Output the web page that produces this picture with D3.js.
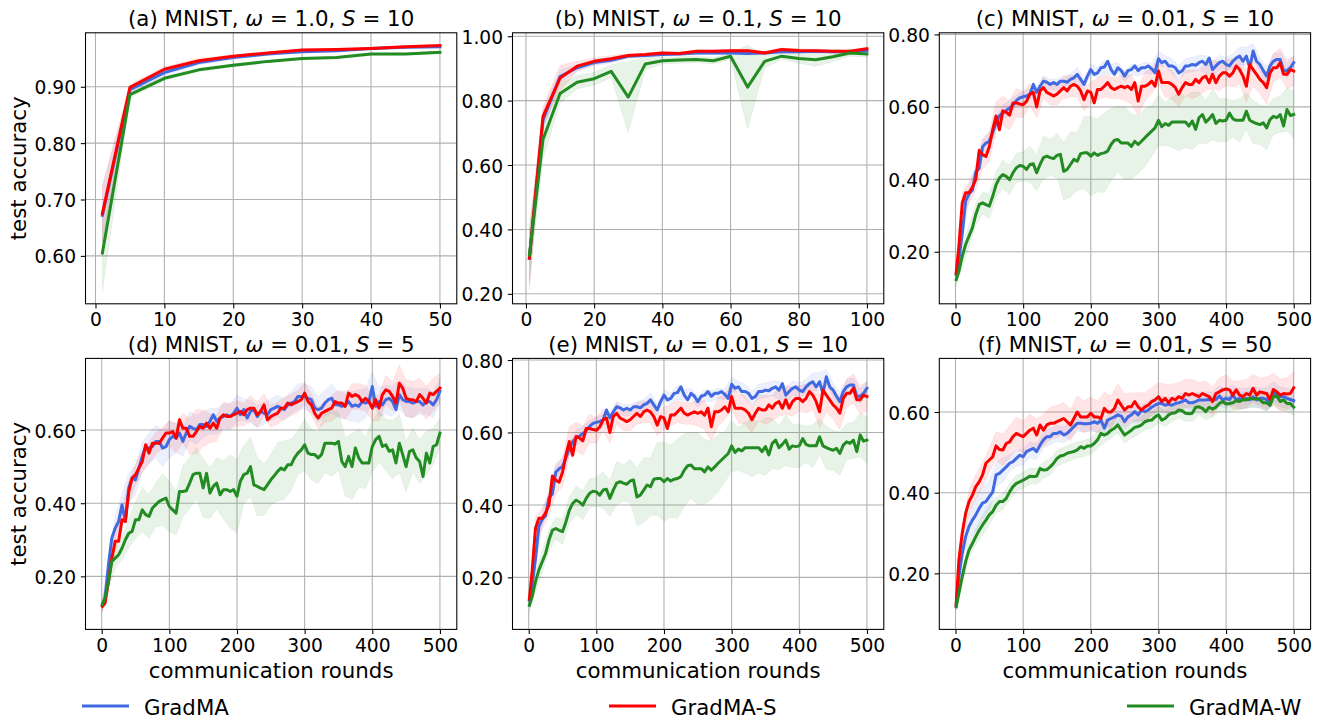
<!DOCTYPE html>
<html><head><meta charset="utf-8">
<script src="https://cdn.jsdelivr.net/npm/d3@7"></script>
<style>
body{margin:0;background:#fff}
svg{display:block}
text{font-family:"DejaVu Sans",sans-serif;fill:#000}
</style>
</head><body><svg id="chart" width="1326" height="721"></svg>
<script>
// ---------------- DATA ----------------
const seriesNames = ["GradMA", "GradMA-S", "GradMA-W"];

const roundsA = [1,5,10,15,20,25,30,35,40,45,50];
const roundsB = [1,5,10,15,20,25,30,35,40,45,50,55,60,65,70,75,80,85,90,95,100];
const rounds500 = [1,5,10,15,20,25,30,35,40,45,50,55,60,65,70,75,80,85,90,95,
  100,105,110,115,120,125,130,135,140,145,150,155,160,165,170,175,180,185,190,195,
  200,205,210,215,220,225,230,235,240,245,250,255,260,265,270,275,280,285,290,295,
  300,305,310,315,320,325,330,335,340,345,350,355,360,365,370,375,380,385,390,395,
  400,405,410,415,420,425,430,435,440,445,450,455,460,465,470,475,480,485,490,495,500];
const bandRounds500 = [1,10,20,30,40,50,60,70,80,90,100,110,120,130,140,150,160,170,180,190,
  200,210,220,230,240,250,260,270,280,290,300,310,320,330,340,350,360,370,380,390,
  400,410,420,430,440,450,460,470,480,490,500];

// (a) MNIST, w=1.0, S=10
const aBlue  = [0.672,0.895,0.925,0.943,0.952,0.958,0.962,0.964,0.968,0.970,0.971];
const aRed   = [0.675,0.899,0.931,0.946,0.954,0.960,0.965,0.966,0.968,0.971,0.973];
const aGreen = [0.605,0.886,0.915,0.930,0.938,0.945,0.950,0.952,0.958,0.958,0.961];
const aBlueStd  = [0.05,0.006,0.005,0.004,0.003,0.002,0.002,0.002,0.002,0.002,0.002];
const aRedStd   = [0.05,0.005,0.005,0.004,0.003,0.002,0.002,0.002,0.002,0.002,0.002];
const aGreenStd = [0.068,0.006,0.004,0.003,0.003,0.002,0.002,0.002,0.002,0.002,0.002];

// (b) MNIST, w=0.1, S=10
const bBlue  = [0.31,0.74,0.875,0.902,0.918,0.925,0.938,0.94,0.943,0.945,0.948,0.948,0.948,0.946,0.948,0.952,0.952,0.953,0.952,0.952,0.955];
const bRed   = [0.311,0.751,0.87,0.907,0.922,0.93,0.94,0.943,0.948,0.946,0.953,0.953,0.955,0.955,0.948,0.959,0.956,0.955,0.953,0.953,0.961];
const bGreen = [0.32,0.679,0.822,0.857,0.868,0.891,0.811,0.914,0.924,0.926,0.928,0.924,0.938,0.842,0.922,0.938,0.931,0.927,0.936,0.948,0.945];
const bBlueStd  = [0.08,0.03,0.02,0.01,0.01,0.008,0.005,0.005,0.005,0.005,0.005,0.005,0.005,0.005,0.005,0.005,0.005,0.005,0.005,0.005,0.005];
const bRedStd   = [0.1,0.03,0.04,0.015,0.01,0.01,0.006,0.005,0.005,0.005,0.005,0.005,0.005,0.005,0.005,0.005,0.005,0.005,0.005,0.005,0.005];
const bGreenStd = [0.08,0.06,0.03,0.02,0.02,0.02,0.11,0.02,0.01,0.01,0.01,0.01,0.01,0.13,0.02,0.01,0.015,0.02,0.015,0.01,0.01];

// (c) and (e) MNIST, w=0.01, S=10
const cBlue = [0.137,0.178,0.25,0.34,0.36,0.37,0.42,0.43,0.49,0.50,
  0.505,0.53,0.555,0.575,0.585,0.59,0.597,0.605,0.617,0.625,
  0.628,0.63,0.635,0.662,0.64,0.657,0.671,0.668,0.662,0.667,
  0.662,0.671,0.671,0.668,0.676,0.68,0.69,0.676,0.662,0.685,
  0.703,0.69,0.694,0.708,0.71,0.726,0.703,0.69,0.708,0.70,
  0.685,0.70,0.703,0.713,0.70,0.708,0.708,0.713,0.705,0.694,
  0.733,0.722,0.726,0.713,0.713,0.708,0.694,0.699,0.713,0.713,
  0.717,0.715,0.722,0.726,0.717,0.735,0.703,0.713,0.722,0.726,
  0.717,0.713,0.726,0.735,0.74,0.726,0.74,0.708,0.754,0.726,
  0.717,0.70,0.685,0.713,0.726,0.731,0.731,0.70,0.70,0.708,
  0.722];
const cRed = [0.14,0.215,0.335,0.363,0.363,0.378,0.40,0.48,0.468,0.463,
  0.49,0.537,0.575,0.537,0.589,0.585,0.577,0.611,0.611,0.608,
  0.606,0.615,0.635,0.64,0.60,0.644,0.653,0.64,0.635,0.63,
  0.635,0.644,0.653,0.644,0.657,0.662,0.657,0.644,0.62,0.644,
  0.64,0.611,0.648,0.648,0.657,0.667,0.653,0.648,0.653,0.657,
  0.653,0.657,0.648,0.667,0.616,0.657,0.657,0.662,0.671,0.657,
  0.699,0.667,0.667,0.667,0.662,0.653,0.635,0.653,0.667,0.662,
  0.662,0.676,0.667,0.68,0.685,0.667,0.69,0.667,0.685,0.694,
  0.694,0.685,0.694,0.713,0.703,0.685,0.657,0.717,0.703,0.69,
  0.676,0.667,0.653,0.694,0.708,0.708,0.722,0.69,0.69,0.703,
  0.699];
const cGreen = [0.123,0.146,0.188,0.22,0.243,0.266,0.303,0.33,0.335,0.33,
  0.326,0.353,0.385,0.404,0.413,0.408,0.399,0.418,0.432,0.438,
  0.436,0.427,0.441,0.443,0.418,0.441,0.46,0.464,0.46,0.457,
  0.466,0.469,0.422,0.427,0.441,0.455,0.45,0.471,0.473,0.473,
  0.464,0.473,0.466,0.471,0.473,0.478,0.496,0.508,0.51,0.50,
  0.50,0.50,0.491,0.505,0.496,0.505,0.515,0.524,0.533,0.542,
  0.563,0.545,0.554,0.549,0.558,0.558,0.558,0.558,0.558,0.547,
  0.561,0.538,0.57,0.579,0.558,0.567,0.579,0.554,0.563,0.561,
  0.563,0.583,0.567,0.563,0.563,0.563,0.588,0.563,0.558,0.554,
  0.551,0.556,0.542,0.565,0.574,0.57,0.579,0.547,0.593,0.576,
  0.579];
const cBlueStd = [0.01,0.02,0.02,0.02,0.025,0.025,0.02,0.02,0.02,0.015,
  0.015,0.015,0.015,0.015,0.015,0.015,0.015,0.015,0.02,0.015,
  0.015,0.015,0.02,0.015,0.015,0.015,0.015,0.015,0.015,0.015,
  0.02,0.015,0.02,0.02,0.02,0.02,0.02,0.025,0.02,0.02,
  0.02,0.02,0.025,0.025,0.02,0.02,0.025,0.02,0.02,0.02,0.02];
const cRedStd = [0.02,0.03,0.03,0.03,0.04,0.04,0.04,0.04,0.04,0.04,
  0.035,0.03,0.03,0.03,0.03,0.03,0.03,0.03,0.03,0.03,
  0.03,0.03,0.03,0.03,0.03,0.035,0.04,0.04,0.04,0.035,
  0.035,0.04,0.04,0.035,0.035,0.04,0.035,0.04,0.04,0.04,
  0.035,0.04,0.04,0.045,0.045,0.04,0.045,0.04,0.04,0.04,0.04];
const cGreenStd = [0.02,0.03,0.03,0.03,0.03,0.035,0.035,0.04,0.04,0.04,
  0.04,0.05,0.05,0.06,0.05,0.06,0.08,0.09,0.08,0.1,
  0.11,0.1,0.11,0.1,0.09,0.1,0.09,0.08,0.08,0.07,
  0.07,0.06,0.07,0.08,0.07,0.08,0.07,0.06,0.07,0.06,
  0.06,0.05,0.06,0.05,0.06,0.055,0.06,0.05,0.05,0.06,0.065];

// (d) MNIST, w=0.01, S=5
const dBlue = [0.123,0.141,0.232,0.305,0.332,0.35,0.396,0.35,0.442,0.469,
  0.464,0.496,0.528,0.555,0.55,0.555,0.569,0.569,0.551,0.555,
  0.574,0.583,0.578,0.592,0.569,0.592,0.61,0.605,0.601,0.615,
  0.615,0.61,0.624,0.642,0.624,0.633,0.637,0.642,0.637,0.646,
  0.66,0.642,0.656,0.633,0.651,0.656,0.637,0.651,0.646,0.642,
  0.656,0.66,0.665,0.66,0.656,0.669,0.674,0.678,0.692,0.692,
  0.692,0.687,0.683,0.66,0.656,0.66,0.674,0.683,0.687,0.669,
  0.669,0.665,0.669,0.678,0.665,0.669,0.665,0.678,0.674,0.678,
  0.719,0.665,0.678,0.669,0.683,0.687,0.678,0.656,0.697,0.683,
  0.678,0.678,0.674,0.678,0.678,0.669,0.678,0.678,0.669,0.683,
  0.706];
const dRed = [0.118,0.127,0.186,0.25,0.296,0.296,0.355,0.35,0.432,0.469,
  0.478,0.496,0.514,0.56,0.537,0.564,0.564,0.564,0.578,0.592,
  0.592,0.596,0.578,0.628,0.605,0.605,0.583,0.583,0.596,0.61,
  0.605,0.619,0.605,0.619,0.605,0.633,0.642,0.637,0.637,0.642,
  0.646,0.651,0.642,0.656,0.66,0.66,0.642,0.651,0.669,0.628,
  0.637,0.642,0.646,0.66,0.66,0.674,0.669,0.674,0.678,0.683,
  0.701,0.678,0.669,0.646,0.633,0.646,0.651,0.656,0.66,0.678,
  0.674,0.674,0.665,0.701,0.692,0.697,0.692,0.678,0.687,0.678,
  0.66,0.683,0.66,0.697,0.71,0.706,0.692,0.674,0.728,0.715,
  0.687,0.683,0.683,0.678,0.697,0.687,0.674,0.701,0.697,0.706,
  0.715];
const dGreen = [0.123,0.141,0.186,0.241,0.25,0.259,0.277,0.30,0.318,0.323,
  0.355,0.355,0.382,0.369,0.364,0.387,0.396,0.405,0.41,0.414,
  0.391,0.382,0.373,0.432,0.432,0.434,0.455,0.478,0.482,0.482,
  0.442,0.482,0.428,0.446,0.455,0.423,0.437,0.437,0.432,0.437,
  0.419,0.46,0.478,0.482,0.50,0.45,0.446,0.441,0.437,0.45,
  0.464,0.475,0.487,0.496,0.491,0.505,0.505,0.524,0.537,0.546,
  0.56,0.537,0.533,0.533,0.524,0.533,0.564,0.564,0.564,0.562,
  0.569,0.514,0.50,0.528,0.50,0.551,0.524,0.51,0.51,0.51,
  0.555,0.574,0.583,0.555,0.56,0.542,0.546,0.51,0.564,0.533,
  0.50,0.542,0.546,0.524,0.514,0.473,0.537,0.51,0.555,0.56,
  0.592];
const dBlueStd = [0.01,0.02,0.03,0.03,0.04,0.04,0.04,0.04,0.045,0.05,
  0.05,0.04,0.04,0.04,0.04,0.035,0.035,0.035,0.035,0.035,
  0.035,0.03,0.03,0.03,0.03,0.03,0.03,0.03,0.03,0.035,
  0.035,0.035,0.035,0.035,0.04,0.035,0.04,0.04,0.045,0.04,
  0.04,0.04,0.04,0.04,0.04,0.04,0.04,0.035,0.035,0.035,0.035];
const dRedStd = [0.015,0.02,0.03,0.03,0.03,0.03,0.03,0.03,0.03,0.03,
  0.035,0.04,0.04,0.05,0.06,0.05,0.04,0.035,0.035,0.035,
  0.035,0.03,0.035,0.035,0.03,0.03,0.03,0.03,0.03,0.03,
  0.03,0.03,0.03,0.03,0.035,0.035,0.035,0.035,0.035,0.035,
  0.035,0.035,0.04,0.04,0.05,0.05,0.05,0.045,0.045,0.045,0.04];
const dGreenStd = [0.02,0.02,0.03,0.03,0.04,0.05,0.06,0.06,0.06,0.07,
  0.07,0.06,0.07,0.07,0.07,0.08,0.07,0.07,0.08,0.1,
  0.1,0.08,0.08,0.08,0.07,0.07,0.08,0.08,0.07,0.06,
  0.07,0.07,0.07,0.08,0.09,0.08,0.08,0.09,0.08,0.07,
  0.07,0.07,0.07,0.08,0.08,0.07,0.06,0.06,0.06,0.05,0.04];

// (f) MNIST, w=0.01, S=50
const fBlue = [0.121,0.192,0.25,0.291,0.316,0.332,0.345,0.361,0.374,0.378,
  0.39,0.402,0.444,0.448,0.456,0.464,0.473,0.477,0.485,0.493,
  0.489,0.502,0.506,0.51,0.502,0.518,0.531,0.539,0.539,0.547,
  0.547,0.551,0.543,0.547,0.555,0.564,0.572,0.572,0.571,0.571,
  0.572,0.576,0.572,0.58,0.56,0.58,0.584,0.588,0.593,0.59,
  0.576,0.588,0.593,0.601,0.593,0.605,0.601,0.605,0.612,0.617,
  0.621,0.621,0.617,0.619,0.617,0.621,0.623,0.626,0.63,0.623,
  0.623,0.626,0.63,0.63,0.63,0.631,0.63,0.631,0.64,0.63,
  0.634,0.631,0.642,0.63,0.634,0.63,0.634,0.63,0.638,0.63,
  0.634,0.634,0.631,0.617,0.65,0.642,0.638,0.638,0.634,0.631,
  0.628];
const fRed = [0.121,0.233,0.30,0.349,0.378,0.394,0.415,0.427,0.444,0.473,
  0.481,0.489,0.516,0.507,0.506,0.522,0.526,0.539,0.547,0.543,
  0.539,0.547,0.555,0.56,0.543,0.568,0.555,0.568,0.572,0.572,
  0.576,0.58,0.584,0.576,0.568,0.584,0.60,0.588,0.588,0.588,
  0.597,0.588,0.588,0.584,0.609,0.60,0.60,0.609,0.63,0.617,
  0.605,0.613,0.613,0.626,0.613,0.605,0.613,0.617,0.626,0.63,
  0.638,0.626,0.634,0.623,0.634,0.63,0.638,0.634,0.646,0.642,
  0.646,0.642,0.638,0.646,0.642,0.638,0.626,0.646,0.65,0.655,
  0.657,0.655,0.642,0.655,0.642,0.638,0.646,0.642,0.659,0.642,
  0.65,0.648,0.646,0.63,0.656,0.65,0.642,0.646,0.645,0.646,
  0.66];
const fGreen = [0.117,0.15,0.192,0.229,0.258,0.274,0.291,0.307,0.32,0.332,
  0.345,0.353,0.369,0.378,0.378,0.386,0.402,0.415,0.423,0.427,
  0.431,0.436,0.441,0.44,0.441,0.46,0.456,0.457,0.464,0.473,
  0.485,0.491,0.493,0.498,0.50,0.502,0.506,0.514,0.51,0.516,
  0.516,0.522,0.531,0.547,0.543,0.547,0.555,0.56,0.568,0.555,
  0.543,0.549,0.555,0.562,0.564,0.568,0.576,0.579,0.58,0.588,
  0.593,0.58,0.584,0.593,0.597,0.598,0.605,0.603,0.597,0.596,
  0.597,0.612,0.613,0.609,0.601,0.612,0.607,0.612,0.621,0.626,
  0.62,0.621,0.623,0.628,0.626,0.631,0.63,0.634,0.632,0.634,
  0.63,0.623,0.623,0.617,0.638,0.64,0.626,0.63,0.621,0.621,
  0.612];
const fBlueStd = [0.01,0.02,0.03,0.04,0.04,0.04,0.03,0.03,0.02,0.02,
  0.02,0.02,0.02,0.02,0.02,0.02,0.02,0.02,0.02,0.02,
  0.02,0.02,0.02,0.02,0.02,0.02,0.02,0.02,0.02,0.02,
  0.02,0.02,0.02,0.02,0.02,0.02,0.02,0.02,0.02,0.025,
  0.025,0.025,0.025,0.025,0.025,0.025,0.03,0.025,0.025,0.025,0.025];
const fRedStd = [0.01,0.02,0.03,0.03,0.03,0.03,0.035,0.04,0.04,0.04,
  0.04,0.04,0.04,0.04,0.04,0.04,0.04,0.04,0.04,0.04,
  0.04,0.04,0.04,0.04,0.04,0.04,0.035,0.035,0.035,0.035,
  0.035,0.035,0.035,0.035,0.035,0.035,0.035,0.035,0.035,0.035,
  0.035,0.035,0.035,0.035,0.035,0.035,0.04,0.04,0.04,0.04,0.04];
const fGreenStd = [0.01,0.02,0.02,0.02,0.025,0.025,0.02,0.02,0.02,0.02,
  0.02,0.02,0.02,0.02,0.02,0.02,0.02,0.02,0.02,0.02,
  0.02,0.02,0.02,0.02,0.02,0.02,0.02,0.02,0.02,0.02,
  0.02,0.02,0.02,0.02,0.02,0.02,0.02,0.02,0.02,0.02,
  0.02,0.02,0.02,0.02,0.02,0.02,0.02,0.02,0.02,0.02,0.02];

// tick labels / values
const xTicksA = [0,10,20,30,40,50];
const xTicksB = [0,20,40,60,80,100];
const xTicks500 = [0,100,200,300,400,500];
const yTicksA = [0.6,0.7,0.8,0.9];
const yTicksB = [0.2,0.4,0.6,0.8,1.0];
const yTicksC = [0.2,0.4,0.6,0.8];
const yTicksD = [0.2,0.4,0.6];

const titles = [
  ["(a) MNIST, ", "ω", " = 1.0, ", "S", " = 10"],
  ["(b) MNIST, ", "ω", " = 0.1, ", "S", " = 10"],
  ["(c) MNIST, ", "ω", " = 0.01, ", "S", " = 10"],
  ["(d) MNIST, ", "ω", " = 0.01, ", "S", " = 5"],
  ["(e) MNIST, ", "ω", " = 0.01, ", "S", " = 10"],
  ["(f) MNIST, ", "ω", " = 0.01, ", "S", " = 50"]
];
const yLabelText = "test accuracy";
const xLabelText = "communication rounds";

// ---------------- LAYOUT / STYLE ----------------
const colors = ["#4169e1", "#ff0000", "#228b22"];
const colLeft = [85.5, 512.5, 939.3];
const rowTop = [32.8, 358.4];
const PW = 371.3, PH = 271;
const TICK_FS = 18.67, LABEL_FS = 21.33;

const panels = [
  {title: titles[0], x: roundsA, ys: [aBlue, aRed, aGreen], bx: roundsA, stds: [aBlueStd, aRedStd, aGreenStd],
   xd: [-1.45, 52.45], yd: [0.515, 0.9957], xt: xTicksA, yt: yTicksA, col: 0, row: 0, ylab: true, xlab: false},
  {title: titles[1], x: roundsB, ys: [bBlue, bRed, bGreen], bx: roundsB, stds: [bBlueStd, bRedStd, bGreenStd],
   xd: [-3.95, 104.95], yd: [0.169, 1.0106], xt: xTicksB, yt: yTicksB, col: 1, row: 0, ylab: false, xlab: false},
  {title: titles[2], x: rounds500, ys: [cBlue, cRed, cGreen], bx: bandRounds500, stds: [cBlueStd, cRedStd, cGreenStd],
   xd: [-23.95, 524.95], yd: [0.0563, 0.8045], xt: xTicks500, yt: yTicksC, col: 2, row: 0, ylab: false, xlab: false},
  {title: titles[3], x: rounds500, ys: [dBlue, dRed, dGreen], bx: bandRounds500, stds: [dBlueStd, dRedStd, dGreenStd],
   xd: [-23.95, 524.95], yd: [0.055, 0.796], xt: xTicks500, yt: yTicksD, col: 0, row: 1, ylab: true, xlab: true},
  {title: titles[4], x: rounds500, ys: [cBlue, cRed, cGreen], bx: bandRounds500, stds: [cBlueStd, cRedStd, cGreenStd],
   xd: [-23.95, 524.95], yd: [0.0563, 0.8045], xt: xTicks500, yt: yTicksC, col: 1, row: 1, ylab: false, xlab: true},
  {title: titles[5], x: rounds500, ys: [fBlue, fRed, fGreen], bx: bandRounds500, stds: [fBlueStd, fRedStd, fGreenStd],
   xd: [-23.95, 524.95], yd: [0.061, 0.733], xt: xTicks500, yt: yTicksD, col: 2, row: 1, ylab: false, xlab: true}
];

const svg = d3.select("#chart");
const defs = svg.append("defs");

panels.forEach((p, pi) => {
  const L = colLeft[p.col], T = rowTop[p.row];
  const g = svg.append("g").attr("transform", `translate(${L},${T})`);
  const x = d3.scaleLinear().domain(p.xd).range([0, PW]);
  const y = d3.scaleLinear().domain(p.yd).range([PH, 0]);

  defs.append("clipPath").attr("id", "clip" + pi)
    .append("rect").attr("width", PW).attr("height", PH);

  // grid
  const grid = g.append("g");
  grid.selectAll("line.gx").data(p.xt).join("line")
    .attr("x1", d => x(d)).attr("x2", d => x(d)).attr("y1", 0).attr("y2", PH)
    .attr("stroke", "#b0b0b0").attr("stroke-width", 1.07);
  grid.selectAll("line.gy").data(p.yt).join("line")
    .attr("class", "gy")
    .attr("y1", d => y(d)).attr("y2", d => y(d)).attr("x1", 0).attr("x2", PW)
    .attr("stroke", "#b0b0b0").attr("stroke-width", 1.07);

  const plot = g.append("g").attr("clip-path", `url(#clip${pi})`);

  // bands + lines
  p.ys.forEach((ys, si) => {
    const std = p.stds[si];
    const bandPts = p.bx.map((r, k) => {
      const idx = p.x.indexOf(r);
      return {r: r, lo: ys[idx] - std[k], hi: ys[idx] + std[k]};
    });
    const area = d3.area().x(d => x(d.r)).y0(d => y(d.lo)).y1(d => y(d.hi));
    plot.append("path").datum(bandPts).attr("d", area)
      .attr("fill", colors[si]).attr("fill-opacity", 0.1)
      .attr("stroke", colors[si]).attr("stroke-opacity", 0.06).attr("stroke-width", 1);
  });
  p.ys.forEach((ys, si) => {
    const line = d3.line().x((d, i) => x(p.x[i])).y(d => y(d));
    plot.append("path").datum(ys).attr("d", line)
      .attr("fill", "none").attr("stroke", colors[si]).attr("stroke-width", 3)
      .attr("stroke-linejoin", "round").attr("stroke-linecap", "square");
  });

  // axes
  const xa = g.append("g").attr("transform", `translate(0,${PH})`)
    .call(d3.axisBottom(x).tickValues(p.xt).tickFormat(d3.format("d")).tickSize(4.7).tickPadding(4.7).tickSizeOuter(0));
  const ya = g.append("g")
    .call(d3.axisLeft(y).tickValues(p.yt).tickFormat(d3.format(".2f")).tickSize(4.7).tickPadding(4.7).tickSizeOuter(0));
  [xa, ya].forEach(a => {
    a.select(".domain").remove();
    a.selectAll(".tick line").attr("stroke", "#000").attr("stroke-width", 1.07);
    a.selectAll(".tick text").attr("font-family", "DejaVu Sans").attr("font-size", TICK_FS).attr("fill", "#000");
  });
  ya.selectAll(".tick text").attr("dy", "0.38em");

  // frame
  g.append("rect").attr("width", PW).attr("height", PH)
    .attr("fill", "none").attr("stroke", "#000").attr("stroke-width", 1.07);

  // title
  const t = g.append("text").attr("x", PW / 2).attr("y", -6.7)
    .attr("text-anchor", "middle").attr("font-size", LABEL_FS);
  p.title.forEach((s, k) => {
    t.append("tspan").text(s).attr("font-style", (k === 1 || k === 3) ? "italic" : "normal");
  });

  if (p.ylab) {
    g.append("text").attr("transform", `translate(${26 - L},${PH / 2}) rotate(-90)`)
      .attr("text-anchor", "middle").attr("font-size", LABEL_FS).text(yLabelText);
  }
  if (p.xlab) {
    g.append("text").attr("x", PW / 2).attr("y", 678 - T)
      .attr("text-anchor", "middle").attr("font-size", LABEL_FS).text(xLabelText);
  }
});

// legend
const legendLineX = [82, 609, 1127];
const legend = svg.append("g");
seriesNames.forEach((name, i) => {
  legend.append("line").attr("x1", legendLineX[i]).attr("x2", legendLineX[i] + 47)
    .attr("y1", 706).attr("y2", 706).attr("stroke", colors[i]).attr("stroke-width", 3);
  legend.append("text").attr("x", legendLineX[i] + 62).attr("y", 714.5)
    .attr("font-size", LABEL_FS).text(name);
});
</script>
</body></html>
